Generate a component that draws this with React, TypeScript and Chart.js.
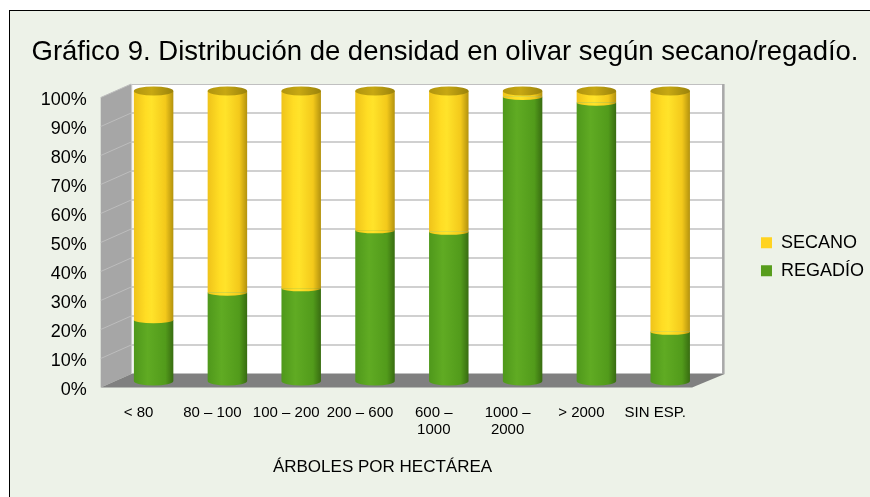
import React, { useEffect, useRef } from 'react';
import { Chart, registerables } from 'chart.js';

Chart.register(...registerables);

const TITLE = 'Gráfico 9. Distribución de densidad en olivar según secano/regadío.';
const X_TITLE = 'ÁRBOLES POR HECTÁREA';
const CATEGORIES: (string | string[])[] = [
  '< 80',
  '80 – 100',
  '100 – 200',
  '200 – 600',
  ['600 –', '1000'],
  ['1000 –', '2000'],
  '> 2000',
  'SIN ESP.',
];
const REGADIO = [21, 30.5, 32, 52, 51.5, 98, 96, 17];
const SECANO = [79, 69.5, 68, 48, 48.5, 2, 4, 83];
const SERIES_LABELS = ['REGADÍO', 'SECANO'];
const Y_TICKS = [0, 10, 20, 30, 40, 50, 60, 70, 80, 90, 100];

const W = 860;
const H = 486;
const FONT = '"Liberation Sans", Arial, sans-serif';
const YELLOW = '#FFD320';
const GREEN = '#579D1C';
const BAR_PCT = 0.535;
const CA_LEFT = 106.7;
const CA_RIGHT = 697.1;
const CA_BOTTOM = 370;
const PAD = { left: 6, right: -4, top: 5.6, bottom: 0 };

type Stop = [number, string];
const YELLOW_STOPS: Stop[] = [
  [0, '#EFC31A'],
  [0.3, '#FFDD24'],
  [0.45, '#FFE32A'],
  [0.8, '#F3C91B'],
  [1, '#B3920E'],
];
const GREEN_STOPS: Stop[] = [
  [0, '#4F981B'],
  [0.35, '#60AB23'],
  [0.8, '#529B1B'],
  [1, '#386C11'],
];
const CAP_STOPS: Stop[] = [
  [0, '#B0940E'],
  [0.45, '#C7A813'],
  [1, '#9A820B'],
];

function grad(ctx: CanvasRenderingContext2D, cx: number, hw: number, stops: Stop[]) {
  const g = ctx.createLinearGradient(cx - hw, 0, cx + hw, 0);
  stops.forEach(([o, c]) => g.addColorStop(o, c));
  return g;
}

function barFill(stops: Stop[], solid: string) {
  return (c: any) => {
    const chart = c.chart;
    const xs = chart.scales && chart.scales.x;
    if (c.type !== 'data' || !xs) return solid;
    const cx = xs.getPixelForValue(c.dataIndex);
    const hw = ((xs.width / CATEGORIES.length) * BAR_PCT) / 2;
    return grad(chart.ctx, cx, hw, stops);
  };
}

const decor3d = {
  id: 'decor3d',
  beforeDatasetsDraw(chart: any) {
    const { ctx, chartArea: ca, scales } = chart;
    const y = scales.y;
    const L = ca.left, R = ca.right, T = ca.top, B = ca.bottom;
    const bL = L + 14.5, bR = R + 16, bdy = -7;
    const fL = L - 16, fR = R - 15, fdy = 6.5;
    ctx.save();
    ctx.fillStyle = '#FFFFFF';
    ctx.fillRect(bL, T + bdy, bR - bL, B - T);
    ctx.fillStyle = '#A6A6A6';
    ctx.beginPath();
    ctx.moveTo(fL, T + fdy);
    ctx.lineTo(bL, T + bdy);
    ctx.lineTo(bL, B + bdy);
    ctx.lineTo(fL, B + fdy);
    ctx.closePath();
    ctx.fill();
    Y_TICKS.forEach((v) => {
      if (v === 0) return;
      const py = y.getPixelForValue(v);
      if (v !== 100) {
        ctx.strokeStyle = '#D0D0D0';
        ctx.lineWidth = 2;
        ctx.beginPath();
        ctx.moveTo(bL, py + bdy);
        ctx.lineTo(bR, py + bdy);
        ctx.stroke();
      }
      ctx.strokeStyle = '#BDBDBD';
      ctx.lineWidth = 1;
      ctx.beginPath();
      ctx.moveTo(fL, py + fdy);
      ctx.lineTo(bL, py + bdy);
      ctx.stroke();
    });
    ctx.strokeStyle = '#C0C0C0';
    ctx.lineWidth = 1;
    ctx.strokeRect(bL + 0.5, T + bdy + 0.5, bR - bL - 1, B - T - 1);
    ctx.fillStyle = '#A9A9A9';
    ctx.fillRect(bR - 1, T + bdy, 2.5, B - T);
    ctx.fillStyle = '#808080';
    ctx.beginPath();
    ctx.moveTo(fL, B + fdy);
    ctx.lineTo(bL, B + bdy);
    ctx.lineTo(bR + 1.5, B + bdy);
    ctx.lineTo(fR, B + fdy);
    ctx.closePath();
    ctx.fill();
    ctx.restore();
  },
  afterDatasetsDraw(chart: any) {
    const { ctx } = chart;
    const m0 = chart.getDatasetMeta(0);
    const m1 = chart.getDatasetMeta(1);
    const ry = 4.5;
    ctx.save();
    m0.data.forEach((g: any, i: number) => {
      const yb = m1.data[i];
      const x = g.x;
      const hw = g.width / 2;
      ctx.fillStyle = grad(ctx, x, hw, GREEN_STOPS);
      ctx.beginPath();
      ctx.ellipse(x, g.base, hw, ry, 0, 0, Math.PI);
      ctx.fill();
      if (SECANO[i] > 0) {
        ctx.fillStyle = grad(ctx, x, hw, YELLOW_STOPS);
        ctx.beginPath();
        ctx.ellipse(x, g.y, hw, ry * 0.7, 0, 0, Math.PI);
        ctx.fill();
      }
      ctx.fillStyle = grad(ctx, x, hw, CAP_STOPS);
      ctx.beginPath();
      ctx.ellipse(x, yb.y, hw, ry, 0, 0, Math.PI * 2);
      ctx.fill();
    });
    ctx.restore();
  },
  afterDraw(chart: any) {
    const { ctx, chartArea: ca } = chart;
    ctx.save();
    ctx.font = `17px ${FONT}`;
    ctx.fillStyle = '#000000';
    ctx.textAlign = 'center';
    ctx.textBaseline = 'middle';
    ctx.fillText(X_TITLE, (ca.left + ca.right) / 2 - 29.4, ca.bottom + 86.5);
    ctx.restore();
  },
};

export default function App() {
  const ref = useRef<HTMLCanvasElement | null>(null);

  useEffect(() => {
    if (!ref.current) return;
    Chart.defaults.font.family = FONT;
    Chart.defaults.color = '#000000';
    const chart = new Chart(ref.current, {
      type: 'bar',
      data: {
        labels: CATEGORIES as any,
        datasets: [
          {
            label: SERIES_LABELS[0],
            data: REGADIO,
            backgroundColor: barFill(GREEN_STOPS, GREEN) as any,
            borderWidth: 0,
            barPercentage: BAR_PCT,
            categoryPercentage: 1,
          },
          {
            label: SERIES_LABELS[1],
            data: SECANO,
            backgroundColor: barFill(YELLOW_STOPS, YELLOW) as any,
            borderWidth: 0,
            barPercentage: BAR_PCT,
            categoryPercentage: 1,
          },
        ],
      },
      options: {
        responsive: false,
        animation: false,
        devicePixelRatio: 1,
        layout: { padding: PAD },
        plugins: {
          tooltip: { enabled: false },
          title: {
            display: true,
            text: TITLE,
            color: '#000000',
            font: { size: 27.5, weight: 'normal', family: FONT },
            padding: { top: 18.9, bottom: 22.5 },
          },
          legend: {
            display: true,
            position: 'right',
            reverse: true,
            labels: {
              boxWidth: 11,
              boxHeight: 11,
              padding: 10,
              color: '#000000',
              font: { size: 18, family: FONT },
              generateLabels: (ch: any) =>
                ch.data.datasets.map((ds: any, i: number) => ({
                  text: ds.label,
                  fillStyle: i === 0 ? GREEN : YELLOW,
                  strokeStyle: i === 0 ? GREEN : YELLOW,
                  lineWidth: 0,
                  hidden: false,
                  datasetIndex: i,
                  fontColor: '#000000',
                })),
            },
          },
        },
        scales: {
          x: {
            stacked: true,
            grid: { display: false, drawTicks: false },
            border: { display: false },
            ticks: {
              font: { size: 15, family: FONT, lineHeight: 1.15 },
              color: '#000000',
              labelOffset: -15,
              padding: 23,
              maxRotation: 0,
              minRotation: 0,
              autoSkip: false,
            },
            afterFit: (s: any) => {
              s.height = H - PAD.bottom - CA_BOTTOM;
            },
          },
          y: {
            stacked: true,
            min: 0,
            max: 100,
            grid: { display: false, drawTicks: false },
            border: { display: false },
            ticks: {
              stepSize: 10,
              font: { size: 18, family: FONT },
              color: '#000000',
              padding: 30,
              labelOffset: 8.7,
              callback: (v: any) => `${v}%`,
            },
            afterFit: (s: any) => {
              s.width = CA_LEFT - PAD.left;
            },
          },
          yR: {
            type: 'linear',
            position: 'right',
            display: true,
            grid: { display: false, drawTicks: false },
            border: { display: false },
            ticks: { display: false },
            afterFit: (s: any) => {
              const lg = s.chart.legend;
              s.width = W - PAD.right - (lg ? lg.width : 123) - CA_RIGHT;
            },
          },
        },
      } as any,
      plugins: [decor3d],
    });
    return () => chart.destroy();
  }, []);

  return (
    <div
      style={{
        position: 'absolute',
        left: 9,
        top: 10,
        width: W,
        height: H,
        borderLeft: '1px solid #000',
        borderTop: '1px solid #000',
        background: '#EDF2E8',
      }}
    >
      <canvas ref={ref} width={W} height={H} style={{ display: 'block', width: W, height: H }} />
    </div>
  );
}
